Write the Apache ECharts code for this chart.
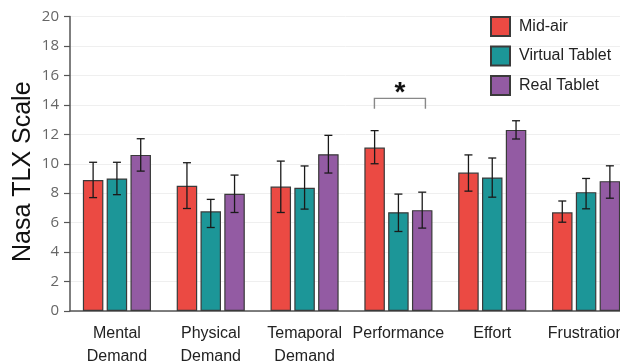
<!DOCTYPE html>
<html>
<head>
<meta charset="utf-8">
<script src="https://cdn.jsdelivr.net/npm/echarts@6/dist/echarts.min.js"></script>
<style>html,body{margin:0;padding:0;background:#fff}#c{width:620px;height:364px}</style>
</head>
<body>
<div id="c"></div>
<script>
var categories = ['Mental\nDemand', 'Physical\nDemand', 'Temaporal\nDemand', 'Performance', 'Effort', 'Frustration'];
var seriesNames = ['Mid-air', 'Virtual Tablet', 'Real Tablet'];
var midAir = [8.9, 8.5, 8.45, 11.1, 9.4, 6.7];
var midAirHigh = [10.1, 10.07, 10.18, 12.25, 10.6, 7.47];
var midAirLow = [7.7, 6.96, 6.69, 10.0, 8.14, 6.03];
var virtualTablet = [9.0, 6.77, 8.37, 6.71, 9.07, 8.07];
var virtualHigh = [10.1, 7.58, 9.85, 7.94, 10.39, 9.0];
var virtualLow = [7.9, 5.67, 6.92, 5.4, 7.73, 6.94];
var realTablet = [10.6, 7.96, 10.65, 6.85, 12.3, 8.82];
var realHigh = [11.7, 9.23, 11.93, 8.07, 12.92, 9.86];
var realLow = [9.5, 6.69, 9.37, 5.63, 11.68, 7.66];
var yTicks = [0, 2, 4, 6, 8, 10, 12, 14, 16, 18, 20];
// significance bracket: category index, bracket level, leg bottom, star level
var sigBracket = [[3, 14.44, 13.74, 14.8]];

var colors = ['#EB4A43', '#1C9698', '#935BA3'];
var BAR_W = 20.5, BAR_GAP = 3.3;

function errSeries(idx, low, high) {
  var data = low.map(function (l, i) { return [i, l, high[i]]; });
  var off = (idx - 1) * (BAR_W + BAR_GAP);
  return {
    type: 'custom', z: 5, silent: true, data: data,
    renderItem: function (params, api) {
      var c = api.value(0);
      var lo = api.coord([c, api.value(1)]);
      var hi = api.coord([c, api.value(2)]);
      var x = lo[0] + off, cap = 4;
      var st = { stroke: '#1a1a1a', lineWidth: 1.3 };
      return { type: 'group', children: [
        { type: 'line', shape: { x1: x, y1: lo[1], x2: x, y2: hi[1] }, style: st },
        { type: 'line', shape: { x1: x - cap, y1: hi[1], x2: x + cap, y2: hi[1] }, style: st },
        { type: 'line', shape: { x1: x - cap, y1: lo[1], x2: x + cap, y2: lo[1] }, style: st }
      ]};
    }
  };
}

function barSeries(idx, vals) {
  return {
    name: seriesNames[idx], type: 'bar', data: vals,
    barWidth: BAR_W, barGap: (BAR_GAP / BAR_W * 100) + '%',
    itemStyle: { color: colors[idx], borderColor: '#3a3a3a', borderWidth: 1.2 }
  };
}

var chart = echarts.init(document.getElementById('c'));
chart.setOption({
  animation: false,
  textStyle: { fontFamily: 'Liberation Sans, Arial, sans-serif' },
  grid: { left: 70, right: -13, top: 16.5, bottom: 53, containLabel: false, outerBoundsMode: 'none' },
  legend: {
    data: seriesNames, orient: 'vertical', left: 490, top: 16, padding: 0,
    icon: 'rect', itemWidth: 19, itemHeight: 19, itemGap: 8.5,
    textStyle: { fontSize: 16, color: '#222', padding: [0, 0, 0, 4] }
  },
  xAxis: {
    type: 'category', data: categories,
    axisLine: { lineStyle: { color: '#555', width: 1.5 } },
    axisTick: { show: false },
    axisLabel: { fontSize: 16, color: '#222', margin: 11, lineHeight: 23, interval: 0 },
    splitLine: { show: false }
  },
  yAxis: {
    type: 'value', min: yTicks[0], max: yTicks[yTicks.length - 1], interval: 2,
    name: 'Nasa TLX Scale', nameLocation: 'middle', nameGap: 34, nameMoveOverlap: false,
    nameTextStyle: { fontSize: 25, color: '#111', padding: [0, 16, 0, 0] },
    axisLine: { show: true, lineStyle: { color: '#555', width: 1.5 } },
    axisTick: { show: true, length: 6, lineStyle: { color: '#555', width: 1.2 } },
    axisLabel: { fontSize: 15, color: '#666', margin: 11, fontFamily: 'Open Sans, sans-serif' },
    splitLine: { lineStyle: { color: '#efefef', width: 1 } }
  },
  series: [
    barSeries(0, midAir), barSeries(1, virtualTablet), barSeries(2, realTablet),
    errSeries(0, midAirLow, midAirHigh), errSeries(1, virtualLow, virtualHigh), errSeries(2, realLow, realHigh),
    {
      type: 'custom', z: 6, silent: true, data: sigBracket,
      renderItem: function (params, api) {
        var c = api.value(0);
        var top = api.coord([c, api.value(1)]);
        var leg = api.coord([c, api.value(2)]);
        var star = api.coord([c, api.value(3)]);
        var x1 = top[0] - 24, x2 = top[0] + 27;
        return { type: 'group', children: [
          { type: 'polyline', shape: { points: [[x1, leg[1]], [x1, top[1]], [x2, top[1]], [x2, leg[1]]] },
            style: { stroke: '#888', lineWidth: 1.4, fill: null } },
          { type: 'text', x: top[0] + 1.5, y: star[1], style: { text: '*', fontSize: 28, fontWeight: 'bold',
            fill: '#111', align: 'center', verticalAlign: 'middle', fontFamily: 'Liberation Sans, Arial' } }
        ]};
      }
    }
  ]
});
</script>
</body>
</html>
